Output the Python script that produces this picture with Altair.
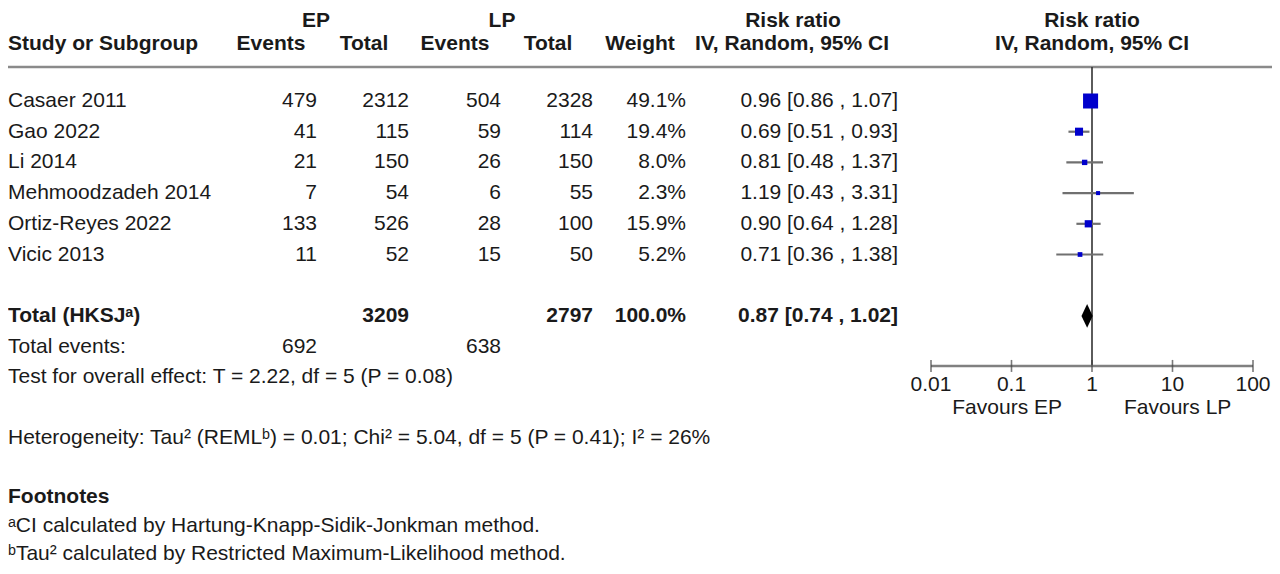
import altair as alt
import pandas as pd

# ---------------- data ----------------
studies = ["Casaer 2011", "Gao 2022", "Li 2014", "Mehmoodzadeh 2014",
           "Ortiz-Reyes 2022", "Vicic 2013"]
ep_events = [479, 41, 21, 7, 133, 11]
ep_total = [2312, 115, 150, 54, 526, 52]
lp_events = [504, 59, 26, 6, 28, 15]
lp_total = [2328, 114, 150, 55, 100, 50]
weights = [49.1, 19.4, 8.0, 2.3, 15.9, 5.2]
rr = [0.96, 0.69, 0.81, 1.19, 0.90, 0.71]
rr_lo = [0.86, 0.51, 0.48, 0.43, 0.64, 0.36]
rr_hi = [1.07, 0.93, 1.37, 3.31, 1.28, 1.38]

total_label = "Total (HKSJ\u1d43)"
total_ep_total = 3209
total_lp_total = 2797
total_weight = 100.0
total_rr, total_lo, total_hi = 0.87, 0.74, 1.02
total_ep_events = 692
total_lp_events = 638

overall_text = "Test for overall effect: T = 2.22, df = 5 (P = 0.08)"
het_text = "Heterogeneity: Tau\u00b2 (REML\u1d47) = 0.01; Chi\u00b2 = 5.04, df = 5 (P = 0.41); I\u00b2 = 26%"
footnote_title = "Footnotes"
footnotes = ["\u1d43CI calculated by Hartung-Knapp-Sidik-Jonkman method.",
             "\u1d47Tau\u00b2 calculated by Restricted Maximum-Likelihood method."]

tick_values = [0.01, 0.1, 1, 10, 100]
tick_labels = ["0.01", "0.1", "1", "10", "100"]
favours = ["Favours EP", "Favours LP"]

# ---------------- layout ----------------
FONT = "Liberation Sans"
FS = 21
INK = "#1a1a1a"
W, H = 1264, 558

ROW = alt.Scale(domain=[0, 5], range=[93, 246.5], zero=False, nice=False)
XS = alt.Scale(type="log", domain=[0.01, 100], range=[923, 1245], nice=False)

R_H1, R_H2, R_SEP = -2.62, -1.86, -1.107
R_TOT, R_EVT, R_TEST = 7, 8, 9
R_HET, R_FT, R_F1, R_F2 = 10.98, 12.9, 13.84, 14.77
R_AXIS, R_TICKLAB, R_FAV = 8.63, 9.25, 10.0
rows = list(range(len(studies)))


def ych(field="row"):
    return alt.Y(f"{field}:Q", scale=ROW, axis=None)


def text_layer(texts, rws, x, align="right", bold=False):
    df = pd.DataFrame({"t": [str(t) for t in texts], "row": rws})
    return alt.Chart(df).mark_text(
        align=align, baseline="middle", font=FONT, fontSize=FS,
        fontWeight="bold" if bold else "normal", color=INK
    ).encode(x=alt.value(x), y=ych(), text="t:N")


layers = []

# headers
hdr1 = [("EP", 308), ("LP", 494), ("Risk ratio", 785)]
for t, x in hdr1:
    layers.append(text_layer([t], [R_H1], x, align="center", bold=True))
layers.append(text_layer(["Study or Subgroup"], [R_H2], 0, align="left", bold=True))
hdr2 = [("Events", 263), ("Total", 356), ("Events", 447), ("Total", 540),
        ("Weight", 632), ("IV, Random, 95% CI", 784)]
for t, x in hdr2:
    layers.append(text_layer([t], [R_H2], x, align="center", bold=True))

# forest headers centred on RR = 1
fh = pd.DataFrame({"t": ["Risk ratio", "IV, Random, 95% CI"], "row": [R_H1, R_H2], "v": [1, 1]})
layers.append(alt.Chart(fh).mark_text(align="center", baseline="middle", font=FONT,
                                      fontSize=FS, fontWeight="bold", color=INK)
              .encode(x=alt.X("v:Q", scale=XS, axis=None), y=ych(), text="t:N"))

# separator line
sep = pd.DataFrame({"row": [R_SEP]})
layers.append(alt.Chart(sep).mark_rule(color="#8a8a8a", strokeWidth=2.5)
              .encode(x=alt.value(0), x2=alt.value(W), y=ych()))

# study rows
layers.append(text_layer(studies, rows, 0, align="left"))
layers.append(text_layer(ep_events, rows, 309))
layers.append(text_layer(ep_total, rows, 401))
layers.append(text_layer(lp_events, rows, 493))
layers.append(text_layer(lp_total, rows, 585))
layers.append(text_layer([f"{w:.1f}%" for w in weights], rows, 678))
layers.append(text_layer([f"{r:.2f} [{l:.2f} , {h:.2f}]" for r, l, h in zip(rr, rr_lo, rr_hi)], rows, 890))

# total rows
layers.append(text_layer([total_label], [R_TOT], 0, align="left", bold=True))
layers.append(text_layer([total_ep_total], [R_TOT], 401, bold=True))
layers.append(text_layer([total_lp_total], [R_TOT], 585, bold=True))
layers.append(text_layer([f"{total_weight:.1f}%"], [R_TOT], 678, bold=True))
layers.append(text_layer([f"{total_rr:.2f} [{total_lo:.2f} , {total_hi:.2f}]"], [R_TOT], 890, bold=True))
layers.append(text_layer(["Total events:"], [R_EVT], 0, align="left"))
layers.append(text_layer([total_ep_events], [R_EVT], 309))
layers.append(text_layer([total_lp_events], [R_EVT], 493))
layers.append(text_layer([overall_text], [R_TEST], 0, align="left"))
layers.append(text_layer([het_text], [R_HET], 0, align="left"))
layers.append(text_layer([footnote_title], [R_FT], 0, align="left", bold=True))
layers.append(text_layer(footnotes, [R_F1, R_F2], 0, align="left"))

# forest: vertical no-effect line
vline = pd.DataFrame({"v": [1], "y1": [R_SEP], "y2": [R_AXIS]})
layers.append(alt.Chart(vline).mark_rule(color="#333333", strokeWidth=1.6)
              .encode(x=alt.X("v:Q", scale=XS, axis=None), y=ych("y1"), y2="y2:Q"))

forest = pd.DataFrame({"row": rows, "rr": rr, "lo": rr_lo, "hi": rr_hi, "w": weights})
layers.append(alt.Chart(forest).mark_rule(color="#707070", strokeWidth=2.2)
              .encode(x=alt.X("lo:Q", scale=XS, axis=None), x2="hi:Q", y=ych()))
layers.append(alt.Chart(forest)
              .transform_calculate(sz="pow(3.5 + 0.235 * datum.w, 2)")
              .mark_square(color="#0000cc", opacity=1, filled=True)
              .encode(x=alt.X("rr:Q", scale=XS, axis=None), y=ych(),
                      size=alt.Size("sz:Q", scale=None, legend=None)))

# diamond for pooled estimate
dia = pd.DataFrame({"v": [total_lo, total_rr, total_hi], "half": [0, 1, 0]})
layers.append(alt.Chart(dia)
              .transform_calculate(ya=f"{R_TOT} - 0.39 * datum.half",
                                   yb=f"{R_TOT} + 0.39 * datum.half")
              .mark_area(color="black", opacity=1, orient="vertical")
              .encode(x=alt.X("v:Q", scale=XS, axis=None), y=ych("ya"), y2="yb:Q"))

# axis
axl = pd.DataFrame({"a": [tick_values[0]], "b": [tick_values[-1]], "row": [R_AXIS]})
layers.append(alt.Chart(axl).mark_rule(color="#808080", strokeWidth=2.5)
              .encode(x=alt.X("a:Q", scale=XS, axis=None), x2="b:Q", y=ych()))
ticks = pd.DataFrame({"v": tick_values, "lab": tick_labels, "row": [R_AXIS] * 5, "lrow": [R_TICKLAB] * 5})
layers.append(alt.Chart(ticks).mark_tick(orient="vertical", size=12, thickness=1.6, color="#404040")
              .encode(x=alt.X("v:Q", scale=XS, axis=None), y=ych()))
layers.append(alt.Chart(ticks).mark_text(align="center", baseline="middle", font=FONT,
                                         fontSize=FS, color=INK)
              .encode(x=alt.X("v:Q", scale=XS, axis=None), y=ych("lrow"), text="lab:N"))
fav = pd.DataFrame({"t": favours, "v": [1, 1], "row": [R_FAV, R_FAV]})
layers.append(alt.Chart(fav[fav.t == favours[0]]).mark_text(align="right", baseline="middle", font=FONT,
                                                          fontSize=FS, color=INK, dx=-30)
              .encode(x=alt.X("v:Q", scale=XS, axis=None), y=ych(), text="t:N"))
layers.append(alt.Chart(fav[fav.t == favours[1]]).mark_text(align="left", baseline="middle", font=FONT,
                                                          fontSize=FS, color=INK, dx=32)
              .encode(x=alt.X("v:Q", scale=XS, axis=None), y=ych(), text="t:N"))

chart = (alt.layer(*layers)
         .properties(width=W, height=H, padding=0,
                     autosize=alt.AutoSizeParams(type="none"))
         .configure_view(stroke=None))

chart.save("out.html", embed_options={"renderer": "svg", "actions": False})
